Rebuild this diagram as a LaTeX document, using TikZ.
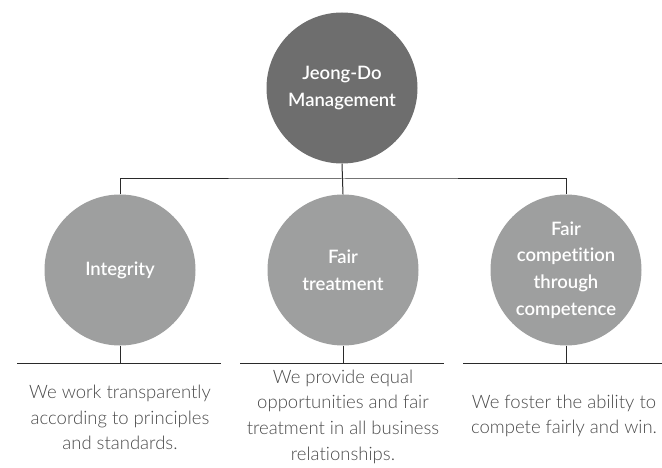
\documentclass[tikz,border=0pt]{standalone}
\usepackage{fontspec}
\setmainfont{Lato}[Ligatures=NoCommon]
\newfontfamily\discfont{Lato Semibold}[Ligatures=NoCommon]
\newfontfamily\notefont{Lato Light}[Ligatures=NoCommon]
\usetikzlibrary{positioning}
\definecolor{darkdisc}{HTML}{6E6E6E}
\definecolor{lightdisc}{HTML}{9E9F9F}
\definecolor{linegray}{HTML}{2A2A2A}
\definecolor{textgray}{HTML}{4A4A4A}

\begin{document}
\begin{tikzpicture}[x=1pt, y=-1pt,
    disc/.style={circle, minimum size=151pt, inner sep=0pt, text=white,
      align=center, font=\discfont\fontsize{18.5}{26.7}\selectfont},
    note/.style={align=center, text=textgray, font=\notefont\fontsize{18.5}{25.7}\selectfont},
    link/.style={draw=linegray, line width=1pt}]
  \useasboundingbox (0,0) rectangle (662,468);

  % the four discs
  \node[disc, fill=darkdisc] (mgmt) at (342,88) {Jeong-Do\\Management};
  \node[disc, fill=lightdisc] (integ) at (120,270) {Integrity};
  \node[disc, fill=lightdisc] (fair) at (343,270) {Fair\\treatment};
  \node[disc, fill=lightdisc] (comp) at (566,270) {Fair\\competition\\through\\competence};

  % tree lines
  \coordinate (bar) at (343,179);
  \draw[link] (mgmt.south) -- (fair.north);
  \draw[link] (integ.north) |- (bar) -| (comp.north);

  % rules under the discs
  \coordinate (rule1a) at (17,363);  \coordinate (rule1b) at (221,363);
  \coordinate (rule2a) at (240,363); \coordinate (rule2b) at (444,363);
  \coordinate (rule3a) at (463,363); \coordinate (rule3b) at (662,363);
  \draw[link] (rule1a) -- (rule1b);
  \draw[link] (rule2a) -- (rule2b);
  \draw[link] (rule3a) -- (rule3b);
  \draw[link] (integ.south) -- (integ.south |- rule1a);
  \draw[link] (fair.south) -- (fair.south |- rule2a);
  \draw[link] (comp.south) -- (comp.south |- rule3a);

  % descriptions
  \node[note] (note1) at (120,417.5) {We work transparently\\according to principles\\and standards.};
  \node[note] (note2) at (343,416.5) {We provide equal\\opportunities and fair\\treatment in all business\\relationships.};
  \node[note] (note3) at (564,416) {We foster the ability to\\compete fairly and win.};
\end{tikzpicture}
\end{document}
